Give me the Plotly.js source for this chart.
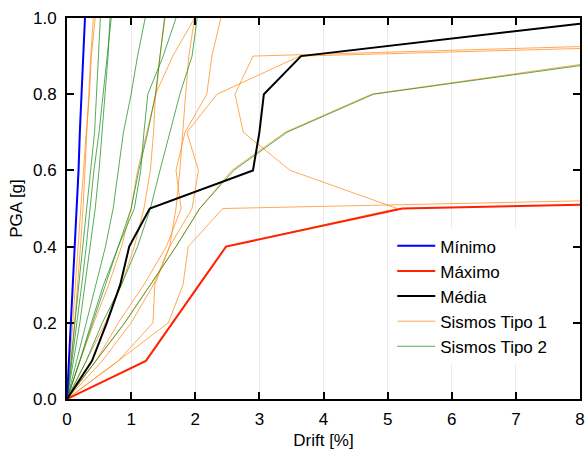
<!DOCTYPE html>
<html><head><meta charset="utf-8">
<script src="https://cdn.plot.ly/plotly-3.0.1.min.js"></script>
<style>html,body{margin:0;padding:0;background:#fff}#chart{width:585px;height:456px}</style>
</head><body><div id="chart"></div>
<script>
// PGA levels [g]
const pgaLevels = [0, 0.1, 0.2, 0.3, 0.4, 0.5, 0.6, 0.7, 0.8, 0.9, 1.0];

// Summary curves (drift %, PGA g)
const minimoDrift = [0, 0.03, 0.06, 0.09, 0.125, 0.15, 0.18, 0.2, 0.23, 0.26, 0.28];
const minimoPga = pgaLevels;
const maximoDrift = [0, 1.23, 2.48, 5.23, 8.0];
const maximoPga = [0, 0.1, 0.4, 0.5, 0.51];
const mediaDrift = [0, 0.39, 0.62, 0.83, 0.97, 1.29, 2.9, 3.0, 3.07, 3.65, 8.0];
const mediaPga = [0, 0.1, 0.2, 0.3, 0.4, 0.5, 0.6, 0.7, 0.8, 0.9, 0.985];

// Sismos Tipo 1 (drift % at each PGA level)
const tipo1_a = [0, 0.05, 0.09, 0.13, 0.17, 0.21, 0.26, 0.3, 0.35, 0.38, 0.44];
const tipo1_b = [0, 0.07, 0.12, 0.17, 0.21, 0.25, 0.28, 0.31, 0.33, 0.37, 0.41];
const tipo1_c = [0, 0.2, 0.42, 0.65, 0.85, 1.0, 1.1, 1.25, 1.39, 1.45, 1.53];
const tipo1_d = [0, 0.3, 0.6, 0.85, 1.05, 1.2, 1.3, 1.35, 1.38, 1.65, 1.99];
const tipo1_e = [0, 0.45, 0.8, 1.2, 1.55, 1.78, 1.7, 1.84, 2.18, 2.26, 2.4];
const tipo1_f = [0, 0.55, 1.0, 1.35, 1.6, 1.95, 2.05, 1.87, 2.34, 3.63, 8.0];
const tipo1_fPga = [0, 0.1, 0.2, 0.3, 0.4, 0.5, 0.6, 0.7, 0.8, 0.9, 0.92];
const tipo1_g = [0, 1.23, 1.65, 2.05, 2.48, 5.15, 3.48, 2.75, 2.62, 2.9, 8.0];
const tipo1_gPga = [0, 0.1, 0.2, 0.3, 0.4, 0.5, 0.6, 0.7, 0.8, 0.9, 0.925];
const tipo1_h = [0, 0.8, 1.58, 1.81, 1.89, 2.43, 8.0];
const tipo1_hPga = [0, 0.1, 0.2, 0.3, 0.4, 0.5, 0.52];
const tipo1_i = [0, 0.45, 0.9, 1.3, 1.7, 2.07, 2.57, 3.4, 4.75, 8.0];
const tipo1_iPga = [0, 0.1, 0.2, 0.3, 0.4, 0.5, 0.6, 0.7, 0.8, 0.878];
const tipo1_j = [0, 0.8, 1.34, 1.37, 1.6, 1.7, 1.76, 1.8, 1.85, 1.9, 1.99];

// Sismos Tipo 2
const tipo2_a = [0, 0.06, 0.12, 0.18, 0.24, 0.3, 0.36, 0.43, 0.46, 0.49, 0.52];
const tipo2_b = [0, 0.08, 0.16, 0.23, 0.3, 0.36, 0.42, 0.5, 0.56, 0.63, 0.69];
const tipo2_c = [0, 0.1, 0.2, 0.28, 0.36, 0.44, 0.5, 0.55, 0.6, 0.64, 0.67];
const tipo2_d = [0, 0.15, 0.3, 0.45, 0.6, 0.72, 0.8, 0.88, 1.0, 1.1, 1.22];
const tipo2_e = [0, 0.2, 0.4, 0.6, 0.8, 1.05, 1.15, 1.2, 1.26, 1.5, 1.7];
const tipo2_f = [0, 0.3, 0.55, 0.85, 1.1, 1.3, 1.45, 1.6, 1.76, 1.95, 2.03];
const tipo2_g = [0, 0.2, 0.38, 0.57, 0.8, 1.0, 1.12, 1.26, 1.38, 1.45, 1.52];
const tipo2_h = [0, 0.45, 0.9, 1.3, 1.7, 2.07, 2.6, 3.43, 4.78, 8.0];
const tipo2_hPga = [0, 0.1, 0.2, 0.3, 0.4, 0.5, 0.6, 0.7, 0.8, 0.875];

const tipo1Series = [
  [tipo1_a, pgaLevels], [tipo1_b, pgaLevels], [tipo1_c, pgaLevels], [tipo1_d, pgaLevels],
  [tipo1_e, pgaLevels], [tipo1_f, tipo1_fPga], [tipo1_g, tipo1_gPga], [tipo1_h, tipo1_hPga],
  [tipo1_i, tipo1_iPga], [tipo1_j, pgaLevels]
];
const tipo2Series = [
  [tipo2_a, pgaLevels], [tipo2_b, pgaLevels], [tipo2_c, pgaLevels], [tipo2_d, pgaLevels],
  [tipo2_e, pgaLevels], [tipo2_f, pgaLevels], [tipo2_g, pgaLevels], [tipo2_h, tipo2_hPga]
];

const traces = [];
tipo1Series.forEach((s, i) => traces.push({
  x: s[0], y: s[1], type: 'scatter', mode: 'lines', name: 'Sismos Tipo 1',
  legendgroup: 't1', showlegend: i === 0, legendrank: 4, opacity: 0.75,
  line: {color: '#ff8c1a', width: 1}
}));
tipo2Series.forEach((s, i) => traces.push({
  x: s[0], y: s[1], type: 'scatter', mode: 'lines', name: 'Sismos Tipo 2',
  legendgroup: 't2', showlegend: i === 0, legendrank: 5, opacity: 0.75,
  line: {color: '#1f8f1f', width: 1}
}));
traces.push({x: minimoDrift, y: minimoPga, type: 'scatter', mode: 'lines', name: 'Mínimo', legendrank: 1, line: {color: '#0000ff', width: 2}});
traces.push({x: maximoDrift, y: maximoPga, type: 'scatter', mode: 'lines', name: 'Máximo', legendrank: 2, line: {color: '#ff2200', width: 2}});
traces.push({x: mediaDrift, y: mediaPga, type: 'scatter', mode: 'lines', name: 'Média', legendrank: 3, line: {color: '#000000', width: 2}});

const layout = {
  width: 585, height: 456,
  margin: {l: 67, r: 5, t: 18, b: 57},
  paper_bgcolor: '#fff', plot_bgcolor: '#fff',
  font: {family: 'Arial, "Liberation Sans", sans-serif', size: 16, color: '#000'},
  showlegend: true,
  legend: {x: 0.634, y: 0.448, xanchor: 'left', yanchor: 'top', bgcolor: '#fff',
           font: {size: 17}, tracegroupgap: 0, itemwidth: 38},
  xaxis: {range: [0, 8], dtick: 1, ticks: 'inside', ticklen: 7, tickwidth: 2, tickcolor: '#000',
          showline: true, linewidth: 2, linecolor: '#000', mirror: 'ticks',
          showgrid: true, gridcolor: '#ebebeb', gridwidth: 1, zeroline: false,
          tickfont: {size: 17}, ticklabelstandoff: 4,
          title: {text: 'Drift [%]', font: {size: 17}, standoff: 6}},
  yaxis: {range: [0, 1], dtick: 0.2, tickformat: '.1f', ticks: 'inside', ticklen: 7, tickwidth: 2, tickcolor: '#000',
          showline: true, linewidth: 2, linecolor: '#000', mirror: 'ticks',
          showgrid: false, zeroline: false,
          tickfont: {size: 17}, ticklabelstandoff: 5,
          title: {text: 'PGA [g]', font: {size: 17}, standoff: 6}}
};
Plotly.newPlot('chart', traces, layout, {displayModeBar: false, staticPlot: true});
</script></body></html>
